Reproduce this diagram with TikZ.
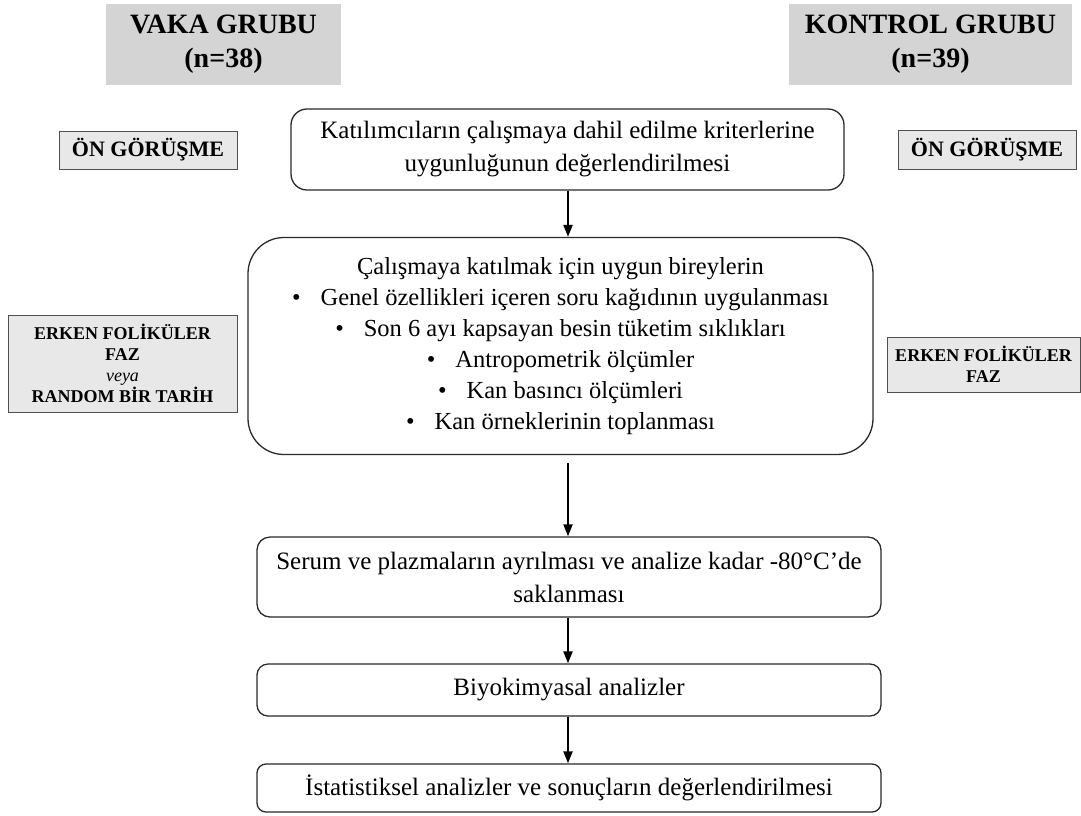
\documentclass[tikz,border=0pt]{standalone}
\usepackage{fontspec}
\setmainfont{Liberation Serif}
\usetikzlibrary{arrows.meta}
\definecolor{titlegray}{HTML}{D4D4D4}
\definecolor{lightbox}{HTML}{E8E8E8}
\definecolor{edgegray}{HTML}{505050}
\definecolor{edgedark}{HTML}{2A2A2A}
\begin{document}
\begin{tikzpicture}[x=1pt,y=-1pt,
  titlebox/.style={fill=titlegray,draw=none,inner sep=0pt,align=center,
    font=\fontsize{28}{34}\selectfont\bfseries},
  tagbox/.style={fill=lightbox,draw=edgegray,line width=1pt,inner sep=0pt,align=center},
  flowbox/.style={draw=edgedark,line width=1.3pt,inner sep=0pt,align=center,
    font=\fontsize{25}{33}\selectfont},
  flowarrow/.style={line width=2pt,-{Triangle[length=12pt,width=9pt]}}
]
\useasboundingbox (0,0) rectangle (1081,815);

% group titles
\node[titlebox,minimum width=235pt,minimum height=81pt] (vaka) at (223.5,44.5) {VAKA GRUBU\\(n=38)};
\node[titlebox,minimum width=283pt,minimum height=81pt] (kontrol) at (930.5,44.5) {KONTROL GRUBU\\(n=39)};

% side tags
\node[tagbox,minimum width=178pt,minimum height=38pt,font=\fontsize{22}{25}\selectfont\bfseries] (onL) at (148,150) {ÖN GÖRÜŞME};
\node[tagbox,minimum width=178pt,minimum height=39pt,font=\fontsize{22}{25}\selectfont\bfseries] (onR) at (987,149.5) {ÖN GÖRÜŞME};
\node[tagbox,minimum width=229pt,minimum height=97pt,font=\fontsize{18}{21}\selectfont\bfseries] (erkL) at (122.5,363.5) {ERKEN FOLİKÜLER\\FAZ\\{\normalfont\itshape veya}\\RANDOM BİR TARİH};
\node[tagbox,minimum width=193pt,minimum height=55pt,font=\fontsize{18}{21}\selectfont\bfseries] (erkR) at (983.5,364.5) {ERKEN FOLİKÜLER\\FAZ};

% flow boxes
\node[flowbox,rounded corners=16pt,minimum width=553pt,minimum height=81pt] (b1) at (567.5,149.5)
  {Katılımcıların çalışmaya dahil edilme kriterlerine\\uygunluğunun değerlendirilmesi};
\node[flowbox,rounded corners=36pt,minimum width=625pt,minimum height=217pt,font=\fontsize{24.5}{31}\selectfont] (b2) at (560.5,346)
  {Çalışmaya katılmak için uygun bireylerin\\
   \textbullet\hspace{20pt}Genel özellikleri içeren soru kağıdının uygulanması\\
   \textbullet\hspace{20pt}Son 6 ayı kapsayan besin tüketim sıklıkları\\
   \textbullet\hspace{20pt}Antropometrik ölçümler\\
   \textbullet\hspace{20pt}Kan basıncı ölçümleri\\
   \textbullet\hspace{20pt}Kan örneklerinin toplanması};
\node[flowbox,rounded corners=13pt,minimum width=624pt,minimum height=80pt] (b3) at (569,577)
  {Serum ve plazmaların ayrılması ve analize kadar -80°C’de\\saklanması};
\node[flowbox,rounded corners=11pt,minimum width=624pt,minimum height=52pt] (b4) at (569,690)
  {Biyokimyasal analizler};
\node[flowbox,rounded corners=9pt,minimum width=624pt,minimum height=48pt] (b5) at (569,788)
  {İstatistiksel analizler ve sonuçların değerlendirilmesi};

% connectors
\coordinate (ax) at (568,463);
\draw[flowarrow] (b1.south -| ax) -- (b2.north -| ax);
\draw[flowarrow] (ax) -- (b3.north -| ax);
\draw[flowarrow] (b3.south -| ax) -- (b4.north -| ax);
\draw[flowarrow] (b4.south -| ax) -- (b5.north -| ax);
\end{tikzpicture}
\end{document}
